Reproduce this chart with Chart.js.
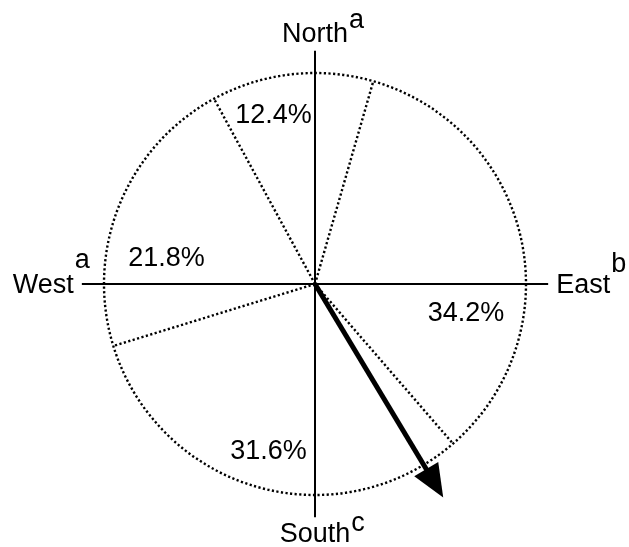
<!DOCTYPE html>
<html>
<head>
<meta charset="utf-8">
<script src="https://cdn.jsdelivr.net/npm/chart.js@4.4.0/dist/chart.umd.min.js"></script>
<style>
html,body{margin:0;padding:0;background:#fff;}
#wrap{width:629px;height:547px;position:relative;}
</style>
</head>
<body>
<div id="wrap"><canvas id="c" width="629" height="547"></canvas></div>
<script>
// ---- data ----
const sectors = ['North', 'East', 'South', 'West'];
const superscripts = ['a', 'b', 'c', 'a'];
const sharePct = [12.4, 34.2, 31.6, 21.8];
const startBearingDeg = [-28.6];
const arrowBearingDeg = [149];
const arrowLengthRel = [1.18];

// ---- style / layout (not data) ----
const FONT = '27px "Liberation Sans", Arial, sans-serif';
const style = {
  radius: 211,
  axisExt: 1.105,
  // percentage label anchors (px offset from centre, baseline)
  pctOffsets: [[-41.5, -161], [151, 37], [-46.5, 175], [-148.5, -18]],
  // superscript raise (px) per compass label
  supRaise: [14, 21, 11, 25]
};

const compassPlugin = {
  id: 'compass',
  afterDatasetsDraw(chart) {
    const meta = chart.getDatasetMeta(0);
    const arcs = meta.data;
    const cx = arcs[0].x, cy = arcs[0].y, r = arcs[0].outerRadius;
    const ctx = chart.ctx;
    ctx.save();
    ctx.strokeStyle = '#000';
    ctx.fillStyle = '#000';

    // dotted slice borders (from the library's arc geometry)
    ctx.lineWidth = 2.4;
    ctx.lineCap = 'butt';
    ctx.setLineDash([2.2, 2.4]);
    ctx.beginPath();
    ctx.arc(cx, cy, r, 0, Math.PI * 2);
    ctx.stroke();
    arcs.forEach(a => {
      ctx.beginPath();
      ctx.moveTo(cx, cy);
      ctx.lineTo(cx + Math.cos(a.startAngle) * r, cy + Math.sin(a.startAngle) * r);
      ctx.stroke();
    });
    ctx.setLineDash([]);

    // compass axes
    const e = style.axisExt * r;
    ctx.lineWidth = 2;
    ctx.beginPath();
    ctx.moveTo(cx, cy - e); ctx.lineTo(cx, cy + e);
    ctx.moveTo(cx - e, cy); ctx.lineTo(cx + e, cy);
    ctx.stroke();

    // arrow
    const b = arrowBearingDeg[0] * Math.PI / 180;
    const L = arrowLengthRel[0] * r;
    const ux = Math.sin(b), uy = -Math.cos(b);
    const px = -uy, py = ux;
    const tipX = cx + ux * L, tipY = cy + uy * L;
    const hl = 33, hw = 14;
    const bx = tipX - ux * hl, by = tipY - uy * hl;
    ctx.lineWidth = 5;
    ctx.beginPath();
    ctx.moveTo(cx, cy);
    ctx.lineTo(bx + ux * 4, by + uy * 4);
    ctx.stroke();
    ctx.beginPath();
    ctx.moveTo(tipX, tipY);
    ctx.lineTo(bx + px * hw, by + py * hw);
    ctx.lineTo(bx - px * hw, by - py * hw);
    ctx.closePath();
    ctx.fill();

    // percentage labels
    ctx.font = FONT;
    ctx.textBaseline = 'alphabetic';
    ctx.textAlign = 'center';
    sharePct.forEach((v, i) => {
      const o = style.pctOffsets[i];
      ctx.fillText(v.toFixed(1) + '%', cx + o[0], cy + o[1]);
    });

    // compass labels with superscripts
    const drawLbl = (txt, sup, x, y, align, raise) => {
      ctx.textAlign = align;
      ctx.fillText(txt, x, y);
      const w = ctx.measureText(txt).width;
      let endX;
      if (align === 'center') endX = x + w / 2;
      else if (align === 'right') endX = x;
      else endX = x + w;
      ctx.textAlign = 'left';
      ctx.fillText(sup, endX + 1, y - raise);
    };
    drawLbl(sectors[0], superscripts[0], cx, cy - e - 9, 'center', style.supRaise[0]);
    drawLbl(sectors[1], superscripts[1], cx + e + 8, cy + 9, 'left', style.supRaise[1]);
    drawLbl(sectors[2], superscripts[2], cx, cy + e + 25, 'center', style.supRaise[2]);
    drawLbl(sectors[3], superscripts[3], cx - e - 8, cy + 9, 'right', style.supRaise[3]);
    ctx.restore();
  }
};

new Chart(document.getElementById('c'), {
  type: 'pie',
  data: {
    labels: sectors,
    datasets: [{
      data: sharePct,
      backgroundColor: '#ffffff',
      borderWidth: 0
    }]
  },
  options: {
    responsive: false,
    devicePixelRatio: 1,
    animation: false,
    rotation: startBearingDeg[0],
    radius: style.radius,
    layout: { padding: { top: 21, bottom: 0, left: 1, right: 0 } },
    plugins: { legend: { display: false }, tooltip: { enabled: false } },
    events: []
  },
  plugins: [compassPlugin]
});
</script>
</body>
</html>
